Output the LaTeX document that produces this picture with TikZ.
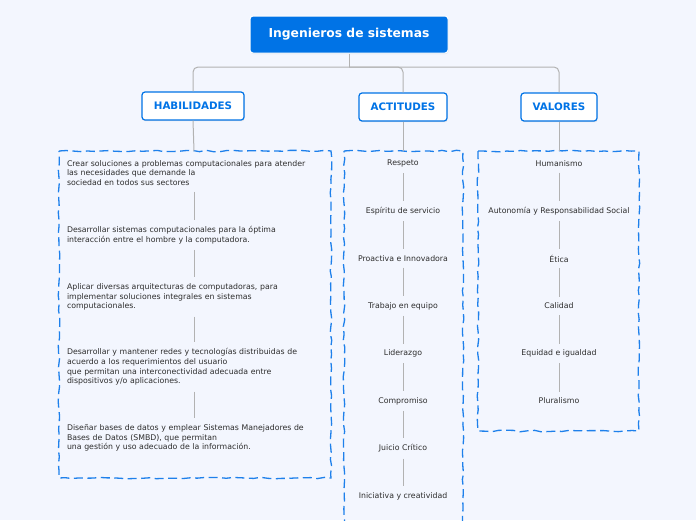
\documentclass[tikz,border=0pt]{standalone}
\usepackage{fontspec}
\setmainfont{DejaVu Sans}
\usetikzlibrary{shadows,decorations.pathmorphing}
\definecolor{bg}{RGB}{243,246,254}
\definecolor{mmblue}{RGB}{0,115,230}
\definecolor{dashblue}{RGB}{30,128,235}
\definecolor{conncol}{RGB}{178,178,178}
\definecolor{txt}{RGB}{45,45,45}
\begin{document}
\begin{tikzpicture}[x=1pt,y=-1pt,
  rootbox/.style={fill=mmblue, draw=white, line width=1pt, rounded corners=3pt,
    minimum width=198pt, minimum height=37pt, inner sep=0pt, text=white,
    font=\bfseries\fontsize{12.3}{14}\selectfont,
    drop shadow={opacity=0.15, shadow xshift=0.6pt, shadow yshift=-1pt}},
  headbox/.style={fill=white, draw=mmblue, line width=1.2pt, rounded corners=3pt,
    minimum height=28pt, inner sep=0pt, text=mmblue,
    font=\bfseries\fontsize{10.3}{12}\selectfont,
    drop shadow={opacity=0.2, shadow xshift=0.6pt, shadow yshift=-1.2pt}},
  conn/.style={draw=conncol, line width=1pt},
  dashbox/.style={draw=dashblue, line width=1.3pt, dash pattern=on 9pt off 4.5pt,
    decorate, decoration={random steps, segment length=7pt, amplitude=0.8pt}},
  itemL/.style={text=txt, font=\fontsize{7.8}{9.7}\selectfont, text width=254pt,
    align=left, inner xsep=0pt, inner ysep=6pt},
  itemC/.style={text=txt, font=\fontsize{7.8}{9.7}\selectfont, align=center,
    inner xsep=0pt, inner ysep=6pt},
]
\useasboundingbox (0,0) rectangle (696,520);
\fill[bg] (0,0) rectangle (696,520);

% root and headers
\node[rootbox] (root) at (349,34.5) {Ingenieros de sistemas};
\node[headbox, minimum width=102pt] (hab) at (193,106) {HABILIDADES};
\node[headbox, minimum width=88pt] (act) at (403,107) {ACTITUDES};
\node[headbox, minimum width=76pt] (val) at (559,107) {VALORES};

\coordinate (j) at (349,67);
\draw[conn] (root.south) -- (j);
\draw[conn, rounded corners=5pt] (j) -| (hab.north);
\draw[conn, rounded corners=5pt] (j) -| (act.north);
\draw[conn, rounded corners=5pt] (j) -| (val.north);

% dashed boxes
\draw[dashbox] (59,151) -- (331,151) -- (331,478) -- (59,478) -- cycle;
\draw[dashbox] (344,151) -- (463,151) -- (463,530) -- (344,530) -- cycle;
\draw[dashbox] (478,151) -- (639,151) -- (639,431) -- (478,431) -- cycle;

% HABILIDADES items
\node[itemL] (h1) at (194,173) {Crear soluciones a problemas computacionales para atender\\las necesidades que demande la\\sociedad en todos sus sectores};
\node[itemL] (h2) at (194,235) {Desarrollar sistemas computacionales para la óptima\\interacción entre el hombre y la computadora.};
\node[itemL] (h3) at (194,297) {Aplicar diversas arquitecturas de computadoras, para\\implementar soluciones integrales en sistemas\\computacionales.};
\node[itemL] (h4) at (194,367) {Desarrollar y mantener redes y tecnologías distribuidas de\\acuerdo a los requerimientos del usuario\\que permitan una interconectividad adecuada entre\\dispositivos y/o aplicaciones.};
\node[itemL] (h5) at (194,438) {Diseñar bases de datos y emplear Sistemas Manejadores de\\Bases de Datos (SMBD), que permitan\\una gestión y uso adecuado de la información.};

\coordinate (htop) at (194,151);
\draw[conn] (hab.south) -- (htop);
\draw[conn] (h1.south) -- (h2.north);
\draw[conn] (h2.south) -- (h3.north);
\draw[conn] (h3.south) -- (h4.north);
\draw[conn] (h4.south) -- (h5.north);

% ACTITUDES items
\node[itemC] (a1) at (403,163.5) {Respeto};
\node[itemC] (a2) at (403,211) {Espíritu de servicio};
\node[itemC] (a3) at (403,258.5) {Proactiva e Innovadora};
\node[itemC] (a4) at (403,306) {Trabajo en equipo};
\node[itemC] (a5) at (403,353.5) {Liderazgo};
\node[itemC] (a6) at (403,401) {Compromiso};
\node[itemC] (a7) at (403,448.5) {Juicio Crítico};
\node[itemC] (a8) at (403,496) {Iniciativa y creatividad};
\coordinate (atop) at (403,151);
\draw[conn] (act.south) -- (atop);
\foreach \i/\k in {1/2,2/3,3/4,4/5,5/6,6/7,7/8}
  \draw[conn] (a\i.south) -- (a\k.north);

% VALORES items
\node[itemC] (v1) at (559,163.5) {Humanismo};
\node[itemC] (v2) at (559,211) {Autonomía y Responsabilidad Social};
\node[itemC] (v3) at (559,258.5) {Ética};
\node[itemC] (v4) at (559,306) {Calidad};
\node[itemC] (v5) at (559,353.5) {Equidad e igualdad};
\node[itemC] (v6) at (559,401) {Pluralismo};
\coordinate (vtop) at (559,151);
\draw[conn] (val.south) -- (vtop);
\foreach \i/\k in {1/2,2/3,3/4,4/5,5/6}
  \draw[conn] (v\i.south) -- (v\k.north);
\end{tikzpicture}
\end{document}
